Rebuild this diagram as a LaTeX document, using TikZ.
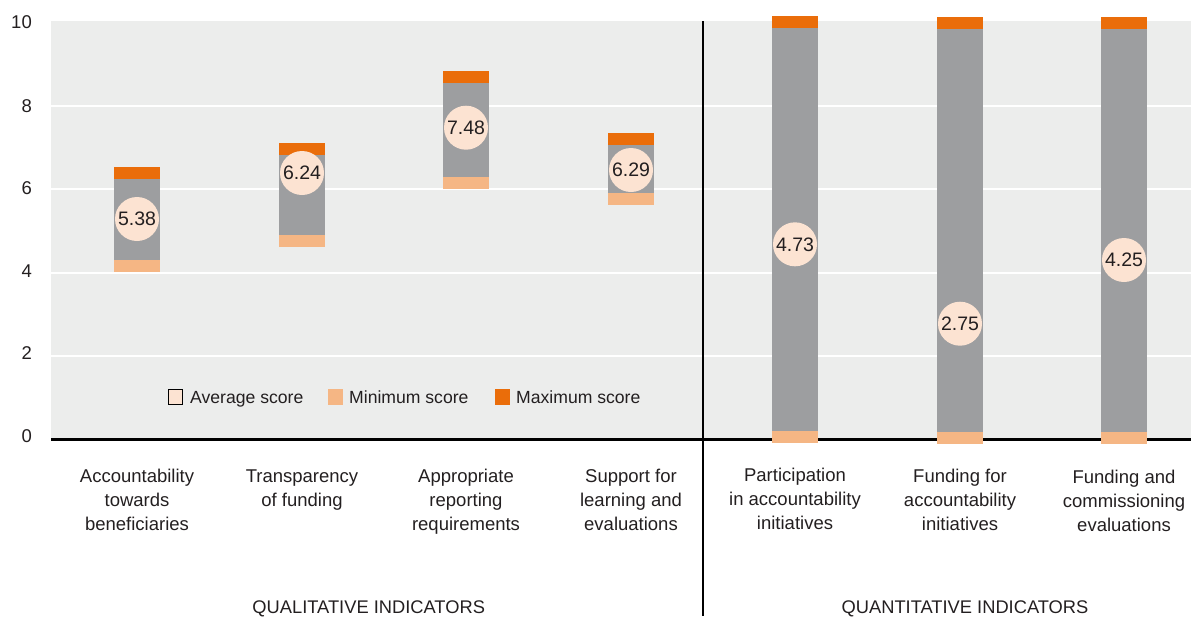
\documentclass[tikz,border=0pt]{standalone}
\usepackage{fontspec}
\setmainfont{Liberation Sans}
\definecolor{bg}{HTML}{ECEDEC}
\definecolor{barg}{HTML}{9D9EA0}
\definecolor{maxc}{HTML}{EA6D0A}
\definecolor{minc}{HTML}{F5B684}
\definecolor{avgc}{HTML}{FCE3D2}
\definecolor{txt}{HTML}{231F20}
\begin{document}
\begin{tikzpicture}[x=1pt,y=-1pt,
  avg/.style={circle,fill=avgc,minimum size=44pt,inner sep=0pt,text=txt,font=\fontsize{19.5}{20}\selectfont},
  cat/.style={align=center,anchor=base,inner sep=0pt,text=txt,font=\fontsize{18.5}{24}\selectfont},
  ytick/.style={anchor=east,inner sep=0pt,text=txt,font=\fontsize{18.5}{20}\selectfont},
  leg/.style={anchor=base west,inner sep=0pt,text=txt,font=\fontsize{17.6}{20}\selectfont},
  grp/.style={anchor=base,inner sep=0pt,text=txt,font=\fontsize{18.3}{20}\selectfont},
  grid/.style={white,line width=2pt}]
\useasboundingbox (0,0) rectangle (1191,616);
\clip (0,0) rectangle (1191,616);
% plot background
\fill[bg] (51,21) rectangle (1191,439.3);
\foreach \yy in {106.1,189.4,272.7,356} \draw[grid] (51,\yy) -- (1191,\yy);
\draw[black,line width=3pt] (51,439.3) -- (1191,439.3);
% y tick labels
\node[ytick] (y10) at (32,22.5) {10};
\node[ytick] (y8) at (32,106) {8};
\node[ytick] (y6) at (32,188.5) {6};
\node[ytick] (y4) at (32,271) {4};
\node[ytick] (y2) at (32,353.5) {2};
\node[ytick] (y0) at (32,436) {0};
% bars
\foreach \i/\x/\t/\o/\g/\m/\c/\v in {
  1/137/167/179/259.7/271.7/219/5.38,
  2/302/143/155/235/247/173/6.24,
  3/466/71/83/177/189/127.7/7.48,
  4/631/133/145/193/205/170/6.29,
  5/795/16/28/431/443/244.3/4.73,
  6/960/17/29/432/444/323.7/2.75,
  7/1124/17/29/432/444/260/4.25} {
  \fill[maxc] (\x-23,\t) rectangle (\x+23,\o);
  \fill[barg] (\x-23,\o) rectangle (\x+23,\g);
  \fill[minc] (\x-23,\g) rectangle (\x+23,\m);
  \node[avg] (a\i) at (\x,\c) {\v};
}
% divider
\draw[black,line width=2.5pt] (703,21) -- (703,616);
% legend
\filldraw[fill=avgc,draw=black,line width=1.1pt] (168.2,389.8) rectangle (182.2,404.2);
\node[leg] (lavg) at (190,403) {Average score};
\fill[minc] (328,389.3) rectangle (343,404.7);
\node[leg] (lmin) at (349,403) {Minimum score};
\fill[maxc] (495,389.3) rectangle (510,404.7);
\node[leg] (lmax) at (516,403) {Maximum score};
% category labels (anchor = baseline of last line)
\node[cat] (c1) at (137,530.5) {Accountability\\towards\\beneficiaries};
\node[cat] (c2) at (302,506.5) {Transparency\\of funding};
\node[cat] (c3) at (466,530.5) {Appropriate\\reporting\\requirements};
\node[cat] (c4) at (631,530.5) {Support for\\learning and\\evaluations};
\node[cat] (c5) at (795,529.5) {Participation\\in accountability\\initiatives};
\node[cat] (c6) at (960,530.5) {Funding for\\accountability\\initiatives};
\node[cat] (c7) at (1124,531) {Funding and\\commissioning\\evaluations};
% group labels
\node[grp] (g1) at (368.7,613.3) {QUALITATIVE INDICATORS};
\node[grp] (g2) at (965,613.3) {QUANTITATIVE INDICATORS};
\end{tikzpicture}
\end{document}
